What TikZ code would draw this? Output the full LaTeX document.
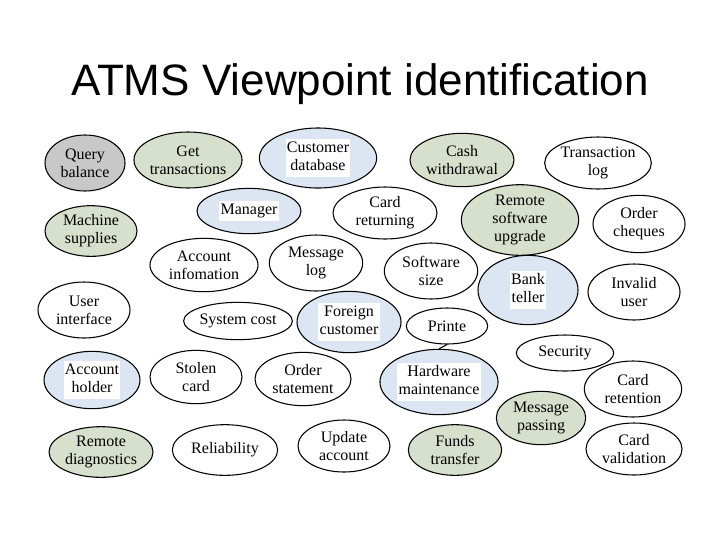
\documentclass[tikz,border=0pt]{standalone}
\usepackage{fontspec}
\setmainfont{Liberation Serif}
\newfontfamily\titlefont{Liberation Sans}
\usetikzlibrary{shapes.geometric}

\definecolor{qgray}{RGB}{200,200,200}
\definecolor{vgreen}{RGB}{214,224,204}
\definecolor{vblue}{RGB}{220,230,242}

\tikzset{
    vp/.style={ellipse, draw, thick, inner sep=0pt, align=center,
        font=\fontsize{12}{13.5}\selectfont},
    vpgray/.style={vp, fill=qgray},
    vpgreen/.style={vp, fill=vgreen},
    vpblue/.style={vp, fill=vblue},
}
% white box behind the text of the blue ellipses
\newcommand{\wbox}[1]{\colorbox{white}{\begin{tabular}{@{}c@{}}#1\end{tabular}}}

\begin{document}
\begin{tikzpicture}[x=0.75pt, y=-0.75pt]

\useasboundingbox (0,0) rectangle (720,540);

\node (title) at (360,84) {\titlefont\fontsize{33}{38}\selectfont ATMS Viewpoint identification};

% Row 1
\node[vpgray, minimum width=60pt, minimum height=42pt] (query) at (85,163) {Query\\balance};
\node[vpgreen, minimum width=81pt, minimum height=42pt] (gettrans) at (188,160) {Get\\transactions};
\node[vpblue, minimum width=88pt, minimum height=45pt] (custdb) at (318,158) {\setlength{\fboxsep}{1pt}\wbox{Customer\\database}};
\node[vpgreen, minimum width=78pt, minimum height=40pt] (cash) at (462,160) {Cash\\withdrawal};
\node[vp, minimum width=80pt, minimum height=39pt] (translog) at (598,163) {Transaction\\log};

% Row 2
\node[vpblue, minimum width=78pt, minimum height=34pt] (manager) at (249,211) {\setlength{\fboxsep}{1pt}\wbox{Manager}};
\node[vp, minimum width=78pt, minimum height=39pt] (cardret) at (385,213) {Card\\returning};
\node[vpgreen, minimum width=88pt, minimum height=51pt] (remote) at (520,220) {Remote\\software\\upgrade};
\node[vp, minimum width=69pt, minimum height=43pt] (cheques) at (639,224) {Order\\cheques};
\node[vpgreen, minimum width=69pt, minimum height=38pt] (supplies) at (91,231) {Machine\\supplies};

% Row 3
\node[vp, minimum width=81pt, minimum height=40pt] (accinfo) at (204,265) {Account\\infomation};
\node[vp, minimum width=70pt, minimum height=42pt] (msglog) at (316,263) {Message\\log};
\node[vp, minimum width=70pt, minimum height=42pt] (swsize) at (431,271) {Software\\size};
\node[vpblue, minimum width=75pt, minimum height=52pt] (teller) at (528,290) {\setlength{\fboxsep}{1pt}\wbox{Bank\\teller}};
\node[vp, minimum width=69pt, minimum height=42pt] (invalid) at (634,292) {Invalid\\user};
\node[vp, minimum width=69pt, minimum height=42pt] (ui) at (84,310) {User\\interface};

% Row 4
\node[vp, minimum width=81pt, minimum height=28pt] (syscost) at (238,321) {System cost};
\node[vpblue, minimum width=78pt, minimum height=46pt] (foreign) at (349,322) {\setlength{\fboxsep}{1pt}\wbox{Foreign\\customer}};
\node[vp, minimum width=61pt, minimum height=27pt] (printe) at (447,326) {Printe};
\node[vp, minimum width=73pt, minimum height=27pt] (security) at (565,353) {Security};

% Row 5
\node[vpblue, minimum width=72pt, minimum height=43pt] (holder) at (92,380) {\setlength{\fboxsep}{1pt}\wbox{Account\\holder}};
\node[vp, minimum width=69pt, minimum height=40pt] (stolen) at (196,377) {Stolen\\card};
\node[vp, minimum width=72pt, minimum height=40pt] (ordstmt) at (303,379) {Order\\statement};
\node[vpblue, minimum width=85pt, minimum height=49pt] (hardware) at (439,382) {\setlength{\fboxsep}{1pt}\wbox{Hardware\\maintenance}};
\node[vp, minimum width=73pt, minimum height=42pt] (retention) at (633,389) {Card\\retention};
\node[vpgreen, minimum width=67pt, minimum height=40pt] (msgpass) at (541,418) {Message\\passing};

% Row 6
\node[vpgreen, minimum width=78pt, minimum height=38pt] (diag) at (101,452) {Remote\\diagnostics};
\node[vp, minimum width=79pt, minimum height=38pt] (reliab) at (225,450) {Reliability};
\node[vp, minimum width=69pt, minimum height=39pt] (update) at (344,446) {Update\\account};
\node[vpgreen, minimum width=70pt, minimum height=38pt] (funds) at (455,450) {Funds\\transfer};
\node[vp, minimum width=72pt, minimum height=39pt] (validation) at (634,449) {Card\\validation};

\draw[thick] (printe.south) -- (hardware.north);

\end{tikzpicture}
\end{document}
